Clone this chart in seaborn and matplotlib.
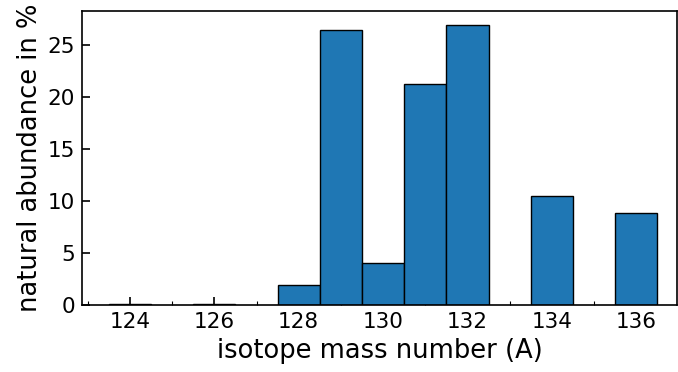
import matplotlib
matplotlib.use("Agg")
import matplotlib.pyplot as plt
from matplotlib.ticker import MultipleLocator
import seaborn as sns
import pandas as pd

# Natural isotopic abundances of xenon
mass_number = [124, 126, 128, 129, 130, 131, 132, 134, 136]
abundance = [0.095, 0.089, 1.910, 26.40, 4.071, 21.23, 26.91, 10.44, 8.857]

df = pd.DataFrame({"A": mass_number, "abundance": abundance})

sns.set_style("ticks")
plt.rcParams["font.family"] = ["DejaVu Sans"]
plt.rcParams["text.color"] = "black"
plt.rcParams["axes.labelcolor"] = "black"
plt.rcParams["xtick.color"] = "black"
plt.rcParams["ytick.color"] = "black"
plt.rcParams["axes.edgecolor"] = "black"

fig = plt.figure(figsize=(6.78, 3.72), dpi=100)
ax = fig.add_axes([82 / 678, 1 - 305 / 372, (677 - 82) / 678, (305 - 11) / 372])

sns.barplot(data=df, x="A", y="abundance", native_scale=True, width=1.0,
            color="#1f77b4", saturation=1, edgecolor="black", linewidth=1,
            ax=ax)

ax.set_xlim(122.86, 136.97)
ax.set_ylim(0, 28.26)
ax.xaxis.set_major_locator(MultipleLocator(2))
ax.xaxis.set_minor_locator(MultipleLocator(1))
ax.yaxis.set_major_locator(MultipleLocator(5))
ax.tick_params(which="major", direction="in", length=6, width=1.2, labelsize=15.5,
               pad=5, colors="black")
ax.tick_params(which="minor", direction="in", length=3, width=0.8, colors="black")
for s in ax.spines.values():
    s.set_visible(True)
    s.set_linewidth(1.2)
    s.set_color("black")

ax.set_xlabel("isotope mass number (A)", fontsize=18.5, color="black", labelpad=4)
ax.set_ylabel("natural abundance in %", fontsize=18.5, color="black", labelpad=3)

fig.savefig("out.png", dpi=100)
